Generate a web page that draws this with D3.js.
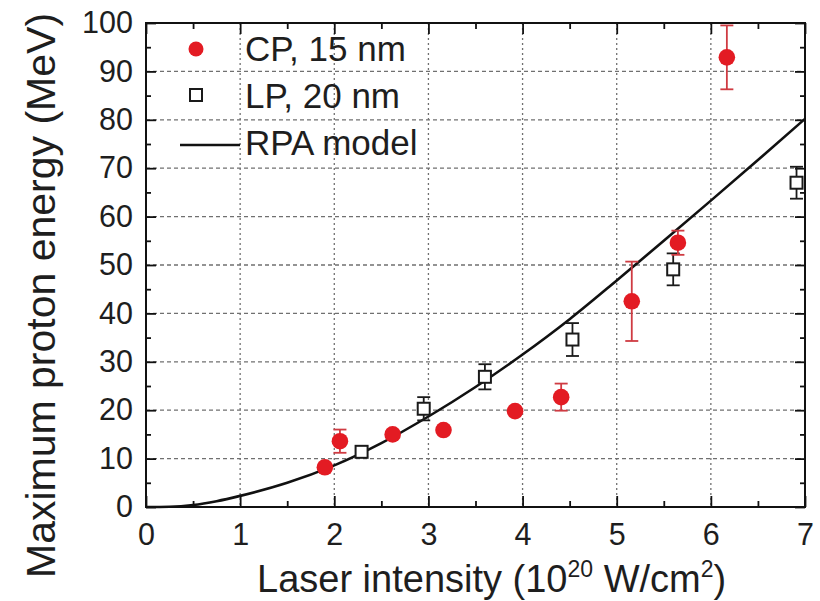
<!DOCTYPE html>
<html>
<head>
<meta charset="utf-8">
<script src="https://cdn.jsdelivr.net/npm/d3@7"></script>
<style>
  body { margin: 0; background: #fff; }
  svg { display: block; }
  text { font-family: "Liberation Sans", Arial, sans-serif; fill: #1e1e1e; }
</style>
</head>
<body>
<svg id="chart" width="820" height="601"></svg>
<script>
// Tick values
const xTicks = [0, 1, 2, 3, 4, 5, 6, 7];
const yTicks = [0, 10, 20, 30, 40, 50, 60, 70, 80, 90, 100];

// Circular polarisation, 15 nm target
const cpIntensity = [1.90, 2.06, 2.62, 3.16, 3.92, 4.41, 5.16, 5.65, 6.17];
const cpEnergy    = [8.2, 13.6, 15.0, 15.9, 19.8, 22.7, 42.5, 54.6, 92.9];
const cpError     = [0.8, 2.4, 0.8, 0.6, 0.6, 2.8, 8.2, 2.5, 6.6];

// Linear polarisation, 20 nm target
const lpIntensity = [2.29, 2.95, 3.60, 4.53, 5.60, 6.91];
const lpEnergy    = [11.4, 20.3, 26.9, 34.6, 49.1, 67.0];
const lpError     = [1.0, 2.4, 2.6, 3.4, 3.3, 3.3];

// RPA model curve
const rpaIntensity = [0, 0.25, 0.5, 0.75, 1, 1.5, 2, 2.5, 3, 3.5, 4, 4.5, 5, 5.5, 6, 6.5, 7];
const rpaEnergy    = [0, 0.05, 0.4, 1.2, 2.3, 5.0, 8.6, 13.2, 18.7, 24.8, 31.5, 38.8, 46.8, 55.0, 63.3, 71.7, 80.2];

const legendLabels = ["CP, 15 nm", "LP, 20 nm", "RPA model"];

const red = "#e31b23";
const redBar = "#cf3b42";

const svg = d3.select("#chart");
const L = 146, R = 805, T = 23, B = 507;

const x = d3.scaleLinear().domain([0, 7]).range([L, R]);
const y = d3.scaleLinear().domain([0, 100]).range([B, T]);

// Grid
const grid = svg.append("g").attr("stroke", "#707070").attr("stroke-width", 1.3);
grid.selectAll("line.v").data(xTicks.filter(d => d > 0 && d < 7)).join("line")
  .attr("x1", d => x(d)).attr("x2", d => x(d)).attr("y1", T).attr("y2", B)
  .attr("stroke-dasharray", "2,3");
grid.selectAll("line.h").data(yTicks.filter(d => d > 0 && d < 100)).join("line")
  .attr("y1", d => y(d)).attr("y2", d => y(d)).attr("x1", L).attr("x2", R)
  .attr("stroke-dasharray", "4,3");

// Axes with inward ticks on all four sides
const xMinor = d3.range(0.5, 7, 1);
const yMinor = d3.range(5, 100, 10);
function styleAxis(g) {
  g.select(".domain").remove();
  g.selectAll(".tick line").attr("stroke", "#111").attr("stroke-width", 1.8);
}
const tickFont = g => g.selectAll("text").attr("font-size", 30.5).attr("fill", "#1e1e1e")
  .attr("font-family", "Liberation Sans, Arial, sans-serif");
svg.append("g").attr("transform", `translate(0,${B})`)
  .call(d3.axisBottom(x).tickValues(xTicks).tickSize(-11).tickPadding(16).tickFormat(d3.format("d")))
  .call(styleAxis).call(tickFont);
svg.append("g").attr("transform", `translate(0,${B})`)
  .call(d3.axisBottom(x).tickValues(xMinor).tickSize(-6).tickFormat(""))
  .call(styleAxis);
svg.append("g").attr("transform", `translate(0,${T})`)
  .call(d3.axisTop(x).tickValues(xTicks).tickSize(-11).tickFormat(""))
  .call(styleAxis);
svg.append("g").attr("transform", `translate(0,${T})`)
  .call(d3.axisTop(x).tickValues(xMinor).tickSize(-6).tickFormat(""))
  .call(styleAxis);
svg.append("g").attr("transform", `translate(${L},0)`)
  .call(d3.axisLeft(y).tickValues(yTicks).tickSize(-10).tickPadding(13).tickFormat(d3.format("d")))
  .call(styleAxis).call(tickFont);
svg.append("g").attr("transform", `translate(${L},0)`)
  .call(d3.axisLeft(y).tickValues(yMinor).tickSize(-5).tickFormat(""))
  .call(styleAxis);
svg.append("g").attr("transform", `translate(${R},0)`)
  .call(d3.axisRight(y).tickValues(yTicks).tickSize(-10).tickFormat(""))
  .call(styleAxis);
svg.append("g").attr("transform", `translate(${R},0)`)
  .call(d3.axisRight(y).tickValues(yMinor).tickSize(-5).tickFormat(""))
  .call(styleAxis);

// Frame
svg.append("rect").attr("x", L).attr("y", T).attr("width", R - L).attr("height", B - T)
  .attr("fill", "none").attr("stroke", "#111").attr("stroke-width", 2);

// RPA model curve
const rpa = rpaIntensity.map((v, i) => [v, rpaEnergy[i]]);
svg.append("path").datum(rpa)
  .attr("fill", "none").attr("stroke", "#111").attr("stroke-width", 2.6)
  .attr("d", d3.line().x(d => x(d[0])).y(d => y(d[1])).curve(d3.curveMonotoneX));

// Error bars
function errorBars(xs, ys, es, color) {
  const g = svg.append("g").attr("stroke", color).attr("stroke-width", 1.8).attr("fill", "none");
  xs.forEach((xi, i) => {
    const cx = x(xi), y1 = y(ys[i] + es[i]), y2 = y(ys[i] - es[i]);
    g.append("line").attr("x1", cx).attr("x2", cx).attr("y1", y1).attr("y2", y2);
    g.append("line").attr("x1", cx - 6.5).attr("x2", cx + 6.5).attr("y1", y1).attr("y2", y1);
    g.append("line").attr("x1", cx - 6.5).attr("x2", cx + 6.5).attr("y1", y2).attr("y2", y2);
  });
}
errorBars(lpIntensity, lpEnergy, lpError, "#1a1a1a");
errorBars(cpIntensity, cpEnergy, cpError, redBar);

// LP squares
svg.append("g").selectAll("rect").data(lpIntensity).join("rect")
  .attr("x", (d) => x(d) - 6).attr("y", (d, i) => y(lpEnergy[i]) - 6)
  .attr("width", 12).attr("height", 12)
  .attr("fill", "#fff").attr("stroke", "#1a1a1a").attr("stroke-width", 2);

// CP circles
svg.append("g").selectAll("circle").data(cpIntensity).join("circle")
  .attr("cx", d => x(d)).attr("cy", (d, i) => y(cpEnergy[i])).attr("r", 8.3)
  .attr("fill", red);

// Legend
const lg = svg.append("g");
lg.append("circle").attr("cx", 196).attr("cy", 49).attr("r", 7.5).attr("fill", red);
lg.append("text").attr("x", 245).attr("y", 61).attr("font-size", 35).attr("fill", "#d3212b").text(legendLabels[0]);
lg.append("rect").attr("x", 190).attr("y", 89).attr("width", 12).attr("height", 12)
  .attr("fill", "#fff").attr("stroke", "#1a1a1a").attr("stroke-width", 2);
lg.append("text").attr("x", 245).attr("y", 108).attr("font-size", 35).text(legendLabels[1]);
lg.append("line").attr("x1", 180).attr("x2", 240).attr("y1", 145).attr("y2", 145)
  .attr("stroke", "#111").attr("stroke-width", 2.6);
lg.append("text").attr("x", 245).attr("y", 155).attr("font-size", 35).text(legendLabels[2]);

// Axis titles
const xt = svg.append("text").attr("x", 257).attr("y", 592).attr("font-size", 38);
xt.append("tspan").text("Laser intensity (10");
xt.append("tspan").attr("font-size", 23).attr("dy", -15).text("20");
xt.append("tspan").attr("dy", 15).text(" W/cm");
xt.append("tspan").attr("font-size", 23).attr("dy", -15).text("2");
xt.append("tspan").attr("dy", 15).text(")");

svg.append("text")
  .attr("transform", "translate(55,578) rotate(-90)")
  .attr("font-size", 41)
  .text("Maximum proton energy (MeV)");
</script>
</body>
</html>
